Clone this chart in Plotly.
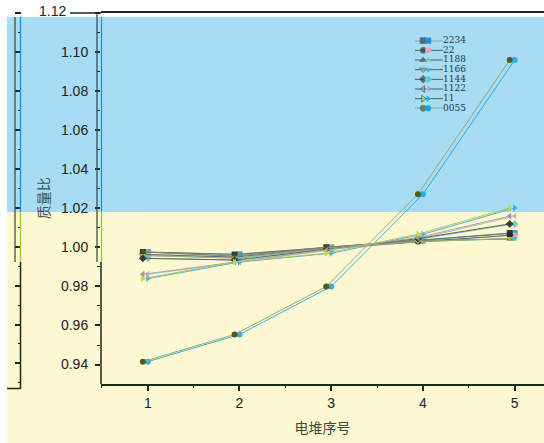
import plotly.graph_objects as go

# ---------------- data ----------------
stacks = [1, 2, 3, 4, 5]
series_names = ["2234", "22", "1188", "1166", "1144", "1122", "11", "0055"]
s_2234 = [0.9976, 0.9964, 1.0000, 1.0036, 1.0073]
s_22 = [0.9964, 0.9950, 0.9995, 1.0030, 1.0062]
s_1188 = [0.9976, 0.9955, 1.0000, 1.0035, 1.0043]
s_1166 = [0.9958, 0.9945, 0.9995, 1.0030, 1.0045]
s_1144 = [0.9944, 0.9935, 0.9990, 1.0045, 1.0120]
s_1122 = [0.9862, 0.9925, 0.9985, 1.0050, 1.0160]
s_11 = [0.9840, 0.9925, 0.9970, 1.0067, 1.0202]
s_0055 = [0.9415, 0.9554, 0.9800, 1.0272, 1.0959]
series_values = [s_2234, s_22, s_1188, s_1166, s_1144, s_1122, s_11, s_0055]
x_ticks = [1, 2, 3, 4, 5]
y_ticks = [0.94, 0.96, 0.98, 1.00, 1.02, 1.04, 1.06, 1.08, 1.10, 1.12]
y_ticktext = [f"{v:.2f}" for v in y_ticks[:-1]] + [""]   # top label drawn separately

# ---------------- styles ----------------
W, H = 544, 443
symbols = ["square", "circle", "triangle-up", "triangle-down", "diamond",
           "triangle-left", "triangle-right", "circle"]
main_colors = ["#3a3a30", "#1a2838", "#505028", "#b0c030", "#3a3a3a",
               "#9a9a9a", "#c8d838", "#5a5a18"]
dup_colors = ["#1e90d8", "#e8a8b0", "#88c8a0", "#40b8d8", "#60c8d0",
              "#b8a8c8", "#20b0d8", "#10a8e8"]
main_line = ["#707070", "#606870", "#808060", "#a8b070", "#606060",
             "#a8a8a0", "#b8c060", "#a8a070"]

def px_x(p):
    return p / W

def px_y(p):
    return 1 - p / H

fig = go.Figure()

# shifted duplicate (drawn on main x axis)
for name, vals, sym, c in zip(series_names, series_values, symbols, dup_colors):
    fig.add_trace(go.Scatter(
        x=stacks, y=vals, mode="lines+markers", name=name + "_dup",
        xaxis="x", yaxis="y", showlegend=False, hoverinfo="skip",
        line=dict(color=c, width=1), opacity=0.85,
        marker=dict(symbol=sym, size=6, color=c)))

# main series (drawn on slightly shifted overlay axis)
for name, vals, sym, c, lc in zip(series_names, series_values, symbols, main_colors, main_line):
    fig.add_trace(go.Scatter(
        x=stacks, y=vals, mode="lines+markers", name=name,
        xaxis="x2", yaxis="y", showlegend=False,
        line=dict(color=lc, width=1),
        marker=dict(symbol=sym, size=6, color=c)))

# invisible carrier so the decorative left axis gets drawn
fig.add_trace(go.Scatter(
    x=stacks, y=s_0055, mode="lines", xaxis="x", yaxis="y2",
    showlegend=False, hoverinfo="skip", opacity=0,
    line=dict(width=0)))

# compact legend drawn in its own small axes
for i, (name, sym, c, dc) in enumerate(zip(series_names, symbols, main_colors, dup_colors)):
    fig.add_trace(go.Scatter(
        x=[0, 0.29, 1], y=[i, i, i], mode="lines+markers+text",
        xaxis="x3", yaxis="y3", showlegend=False, hoverinfo="skip",
        line=dict(color="#506060", width=1),
        marker=dict(symbol=sym, size=[0, 6, 0], color=c),
        text=["", "", name], textposition="middle right",
        textfont=dict(family="DejaVu Serif", size=9, color="#2a3a3a"),
        cliponaxis=False))
    fig.add_trace(go.Scatter(
        x=[0.47], y=[i], mode="markers",
        xaxis="x3", yaxis="y3", showlegend=False, hoverinfo="skip",
        marker=dict(symbol=sym, size=6, color=dc), cliponaxis=False))

# ---------------- decorations ----------------
axis_color = "#1a2a1a"
gray_axis = "#4a4a40"
blue_acc = "#2090d8"
green_acc = "#90c840"

def vline(xp, y0p, y1p, color, width=1.3):
    return dict(type="line", xref="paper", yref="paper", x0=px_x(xp), x1=px_x(xp),
                y0=px_y(y0p), y1=px_y(y1p), line=dict(color=color, width=width))

def hline(x0p, x1p, yp, color, width=1.5):
    return dict(type="line", xref="paper", yref="paper", x0=px_x(x0p), x1=px_x(x1p),
                y0=px_y(yp), y1=px_y(yp), line=dict(color=color, width=width))

shapes = [
    dict(type="rect", xref="paper", yref="paper", x0=px_x(7), x1=1, y0=px_y(17), y1=px_y(212),
         fillcolor="#a6dcf4", line_width=0, layer="below"),
    dict(type="rect", xref="paper", yref="paper", x0=px_x(7), x1=1, y0=px_y(212), y1=0,
         fillcolor="#fdf8d2", line_width=0, layer="below"),
    # main y axis: grey upper copy + coloured accent + black lower part
    vline(97, 13, 262, gray_axis),
    vline(101.5, 17, 212, blue_acc),
    vline(101.5, 212, 262, green_acc),
    vline(101, 262, 384, axis_color, 1.5),
    # decorative left axis
    vline(15, 17, 262, gray_axis),
    vline(20.5, 17, 212, blue_acc),
    vline(20.5, 212, 262, green_acc),
    vline(20.5, 262, 389, axis_color, 1.5),
    hline(7, 20.5, 388.5, axis_color),
    hline(70, 101, 13, axis_color),
]

tick_font = dict(family="Liberation Sans, Arial", size=14, color="#222222")

fig.update_layout(
    width=W, height=H,
    margin=dict(l=0, r=0, t=0, b=0),
    paper_bgcolor="white", plot_bgcolor="rgba(0,0,0,0)",
    showlegend=False,
    shapes=shapes,
    annotations=[dict(text=f"{y_ticks[-1]:.2f}", xref="paper", yref="paper",
                      x=px_x(68), y=px_y(11), xanchor="right", yanchor="middle",
                      showarrow=False, font=tick_font)],
    xaxis=dict(domain=[px_x(101), 1], range=[0.49, 5.32], tickvals=x_ticks,
               ticks="outside", ticklen=6, tickwidth=1.5, tickcolor=axis_color,
               minor=dict(ticks="outside", ticklen=3, dtick=0.5, tickcolor=axis_color, tickwidth=1.2),
               showline=True, linecolor=axis_color, linewidth=1.5, mirror=True,
               showgrid=False, zeroline=False, tickfont=tick_font,
               title=dict(text="电堆序号", standoff=13,
                          font=dict(family="Noto Sans CJK SC", size=14, color="#3a4a3a")),
               anchor="y"),
    xaxis2=dict(domain=[px_x(101), 1], range=[0.544, 5.374], overlaying="x",
                visible=False, anchor="y"),
    yaxis=dict(domain=[px_y(383.5), px_y(13)], range=[0.9303, 1.12], tickvals=y_ticks,
               ticktext=y_ticktext, ticks="outside", ticklen=5, tickwidth=1.5, tickcolor=axis_color,
               minor=dict(ticks="outside", ticklen=3, dtick=0.01, tickcolor=axis_color, tickwidth=1.2),
               showline=False, ticklabelstandoff=4,
               showgrid=False, zeroline=False, tickfont=tick_font,
               title=dict(text="质量比", standoff=8,
                          font=dict(family="Noto Sans CJK SC", size=14, color="#3a5058")),
               anchor="x"),
    yaxis2=dict(domain=[px_y(388), px_y(17)], range=[0.9297, 1.12], anchor="free",
                position=px_x(20.5), overlaying="y", showticklabels=False,
                tickvals=y_ticks, ticks="outside", ticklen=6, tickwidth=1.5, tickcolor=axis_color,
                minor=dict(ticks="outside", ticklen=3, dtick=0.01, tickcolor=axis_color, tickwidth=1.2),
                showline=False, showgrid=False, zeroline=False),
    xaxis3=dict(domain=[px_x(415), px_x(443)], range=[0, 1], visible=False, anchor="y3"),
    yaxis3=dict(domain=[px_y(108.3), px_y(40.7)], range=[7, 0], visible=False, anchor="x3"),
)

fig.write_html("out.html", config={"displayModeBar": False},
               post_script="document.body.style.margin='0';document.body.style.overflow='hidden';")
